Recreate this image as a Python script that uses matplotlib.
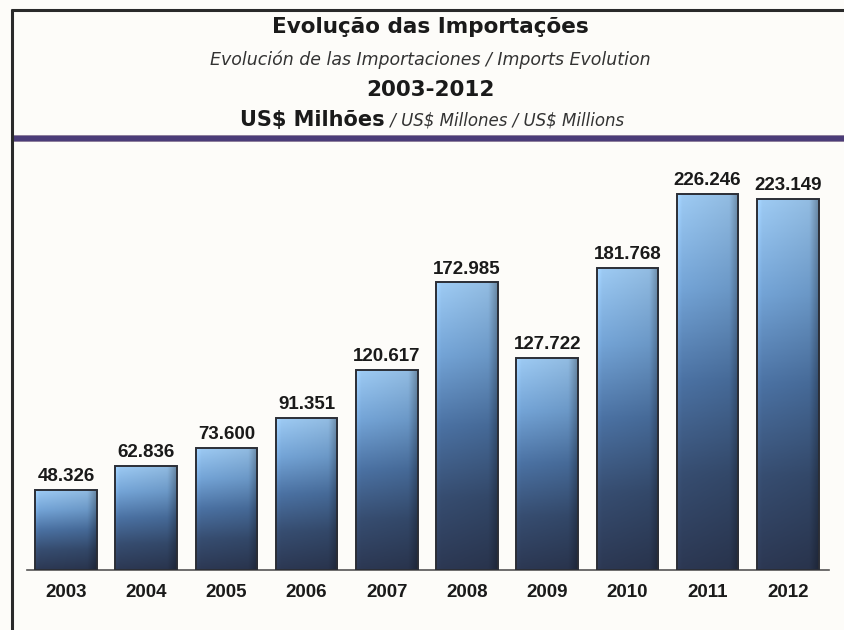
import numpy as np
import matplotlib
matplotlib.use("Agg")
import matplotlib.pyplot as plt
from matplotlib.patches import Rectangle
from matplotlib.lines import Line2D
from matplotlib.colors import LinearSegmentedColormap

# Import values, US$ millions
years = ["2003", "2004", "2005", "2006", "2007", "2008", "2009", "2010", "2011", "2012"]
imports = [48.326, 62.836, 73.600, 91.351, 120.617, 172.985, 127.722, 181.768, 226.246, 223.149]
value_labels = ["48.326", "62.836", "73.600", "91.351", "120.617",
                "172.985", "127.722", "181.768", "226.246", "223.149"]

W, H = 844, 630
BG = "#fdfcf9"
fig = plt.figure(figsize=(W / 100, H / 100), dpi=100, facecolor=BG)
NUM_FONT = ["Liberation Sans", "DejaVu Sans"]

def fx(px):
    return px / W

def fy(py):
    return 1 - py / H

# Frame: top rule, left rule, purple band under the header
fig.add_artist(Line2D([fx(11), 1], [fy(10), fy(10)], color="#2a2a2a", lw=2.2,
                      solid_capstyle="butt"))
fig.add_artist(Line2D([fx(12), fx(12)], [fy(9), 0], color="#2a2a2a", lw=2.2,
                      solid_capstyle="butt"))
fig.add_artist(Rectangle((fx(13), fy(141)), 1 - fx(13), (141 - 135) / H,
                         facecolor="#4b3c78", edgecolor="#8a7a98", lw=0.6))

# Header texts
cx = fx(430)
fig.text(cx, fy(27), "Evolução das Importações", ha="center", va="center",
         fontsize=15.5, fontweight="bold", color="#1a1a1a", family="DejaVu Sans")
fig.text(cx, fy(60), "Evolución de las Importaciones / Imports Evolution", ha="center",
         va="center", fontsize=12.5, style="italic", color="#333333", family="DejaVu Sans")
fig.text(cx, fy(90), "2003-2012", ha="center", va="center",
         fontsize=15.5, fontweight="bold", color="#1a1a1a", family="DejaVu Sans")
unit_bold = fig.text(0, fy(126), "US\\$ Milhões", ha="left", va="baseline",
                     fontsize=15, fontweight="bold", color="#1a1a1a", family="DejaVu Sans")
unit_it = fig.text(0, fy(126), " / US\\$ Millones / US\\$ Millions", ha="left",
                   va="baseline", fontsize=12, style="italic", color="#333333",
                   family="DejaVu Sans")
fig.canvas.draw()
r = fig.canvas.get_renderer()
wb = unit_bold.get_window_extent(r).width
wi = unit_it.get_window_extent(r).width
start = 432 - (wb + wi) / 2
unit_bold.set_x(fx(start))
unit_it.set_x(fx(start + wb))

# Chart axes mapped onto the lower panel
base_px, top_px = 570, 160
left_px, right_px = 27, 829
ax = fig.add_axes([fx(left_px), fy(base_px), fx(right_px - left_px), (base_px - top_px) / H])
ax.set_facecolor("none")
ppu = 1.662
ax.set_ylim(0, (base_px - top_px) / ppu)
step = 80.2
for s in ax.spines.values():
    s.set_visible(False)
ax.spines["bottom"].set_visible(True)
ax.spines["bottom"].set_color("#555555")
ax.spines["bottom"].set_linewidth(1.2)
ax.set_yticks([])
x = np.arange(len(years))
ax.set_xticks(x)
ax.set_xticklabels(years, fontsize=13.5, fontweight="bold", color="#1a1a1a",
                   family=NUM_FONT)
ax.tick_params(axis="x", length=0, pad=10)

# Gradient fill for each bar: light blue on top to dark navy at the base,
# with a darker right edge
cmap = LinearSegmentedColormap.from_list(
    "barfill", ["#29344d", "#334869", "#466a98", "#6c99c8", "#93bde3"])
ny, nx = 200, 60
vert = np.linspace(0, 1, ny)[:, None]
horiz = np.linspace(0, 1, nx)[None, :]
shade = (1.08 - 0.10 * horiz
         - 0.25 * np.clip((horiz - 0.85) / 0.15, 0, 1)
         + 0.08 * np.clip((0.08 - horiz) / 0.08, 0, 1))
bw = 0.77
for xi, v, lab in zip(x, imports, value_labels):
    rgb = cmap(vert)[:, :, :3] * np.ones((1, nx, 1))
    rgb = np.clip(rgb * shade[:, :, None], 0, 1)
    x0, x1 = xi - bw / 2, xi + bw / 2
    im = ax.imshow(rgb, extent=[x0, x1, 0, v], origin="lower", aspect="auto",
                   interpolation="bilinear", zorder=2)
    rect = Rectangle((x0, 0), bw, v, facecolor="none", edgecolor="#2b2e36",
                     lw=1.4, zorder=3)
    ax.add_patch(rect)
    im.set_clip_path(rect)
    ax.annotate(lab, (xi, v), xytext=(0, 3.5), textcoords="offset points",
                ha="center", va="bottom", fontsize=13.5, fontweight="bold",
                color="#1a1a1a", family=NUM_FONT)

ax.set_xlim((left_px - 66) / step, (right_px - 66) / step)
fig.savefig("out.png", dpi=100, facecolor=BG)
